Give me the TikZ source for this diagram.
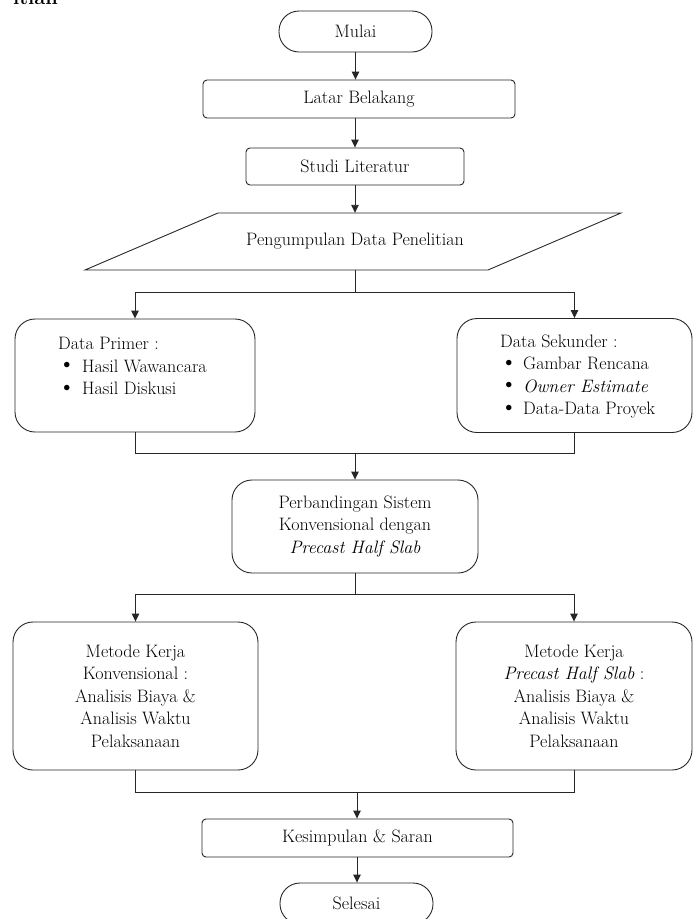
\documentclass[tikz,border=0pt]{standalone}
\usetikzlibrary{arrows.meta}
\newcommand{\bul}{\raisebox{0.5pt}{\scalebox{1.35}{\textbullet}}}
\begin{document}
\begin{tikzpicture}[x=1pt,y=-1pt,
  every node/.style={font=\fontsize{18}{22.5}\selectfont, inner sep=0pt},
  ln/.style={draw=black!85, line width=0.9pt},
  arr/.style={ln, -{Triangle[length=8pt,width=7.5pt]}},
  term/.style={ln, rounded corners=20pt, minimum width=153pt, minimum height=41pt},
  proc/.style={ln, rounded corners=4pt},
  rbox/.style={ln, rounded corners=20pt, align=center}
]
\useasboundingbox (0,0) rectangle (693,919);
\clip (0,0) rectangle (693,919);

% cut-off heading fragment
\node[anchor=base east, font=\fontsize{20}{24}\selectfont\bfseries] (head) at (58,4) {itian};

\node[term] (mulai) at (355.5,31.5) {Mulai};
\node[proc, minimum width=312pt, minimum height=38pt] (latar) at (359,99) {Latar Belakang};
\node[proc, minimum width=218pt, minimum height=37pt] (studi) at (355,166.5) {Studi Literatur};

\node[minimum width=270pt, minimum height=57pt] (para) at (355,241.5) {Pengumpulan Data Penelitian};
\draw[ln, line join=miter] (218,213) -- (621,213) -- (488,270) -- (85,270) -- cycle;

\node[rbox, minimum width=240pt, minimum height=113pt] (prim) at (135,375.5) {};
\node[anchor=west, align=left] (primt) at (58,366) {Data Primer :\\
  \makebox[24pt][l]{\bul}Hasil Wawancara\\
  \makebox[24pt][l]{\bul}Hasil Diskusi};

\node[rbox, minimum width=235pt, minimum height=114pt] (sek) at (574.5,375.5) {};
\node[anchor=west, align=left] (sekt) at (500,376.5) {Data Sekunder :\\
  \makebox[23pt][l]{\bul}Gambar Rencana\\
  \makebox[23pt][l]{\bul}\textit{Owner Estimate}\\
  \makebox[23pt][l]{\bul}Data-Data Proyek};

\node[rbox, minimum width=246pt, minimum height=93pt] (perb) at (355,526.5)
  {Perbandingan Sistem\\Konvensional dengan\\\textit{Precast Half Slab}};

\node[rbox, minimum width=245pt, minimum height=148pt] (mk) at (135.5,696)
  {Metode Kerja\\Konvensional :\\Analisis Biaya \&\\Analisis Waktu\\Pelaksanaan};
\node[rbox, minimum width=236pt, minimum height=148pt] (mp) at (574,696)
  {Metode Kerja\\\textit{Precast Half Slab} :\\Analisis Biaya \&\\Analisis Waktu\\Pelaksanaan};

\node[proc, minimum width=311pt, minimum height=38pt] (kes) at (357.5,838) {Kesimpulan \& Saran};
\node[term] (sel) at (356.5,903.5) {Selesai};

% connectors
\draw[arr] (mulai.south) -- (latar.north -| mulai.south);
\draw[arr] (latar.south -| studi.north) -- (studi.north);
\draw[arr] (studi.south) -- (para.north);

\coordinate (f1) at (355,292);
\draw[ln] (para.south) -- (f1);
\draw[arr] (f1) -| (prim.north);
\draw[arr] (f1) -| (sek.north);

\coordinate (j1) at (355,453);
\draw[ln] (prim.south) |- (j1);
\draw[ln] (sek.south) |- (j1);
\draw[arr] (j1) -- (perb.north);

\coordinate (f2) at (355,594);
\draw[ln] (perb.south) -- (f2);
\draw[arr] (f2) -| (mk.north);
\draw[arr] (f2) -| (mp.north);

\coordinate (j2) at (357,792);
\draw[ln] (mk.south) |- (j2);
\draw[ln] (mp.south) |- (j2);
\draw[arr] (j2) -- (kes.north -| j2);
\draw[arr] (kes.south -| j2) -- (sel.north -| j2);
\end{tikzpicture}
\end{document}
